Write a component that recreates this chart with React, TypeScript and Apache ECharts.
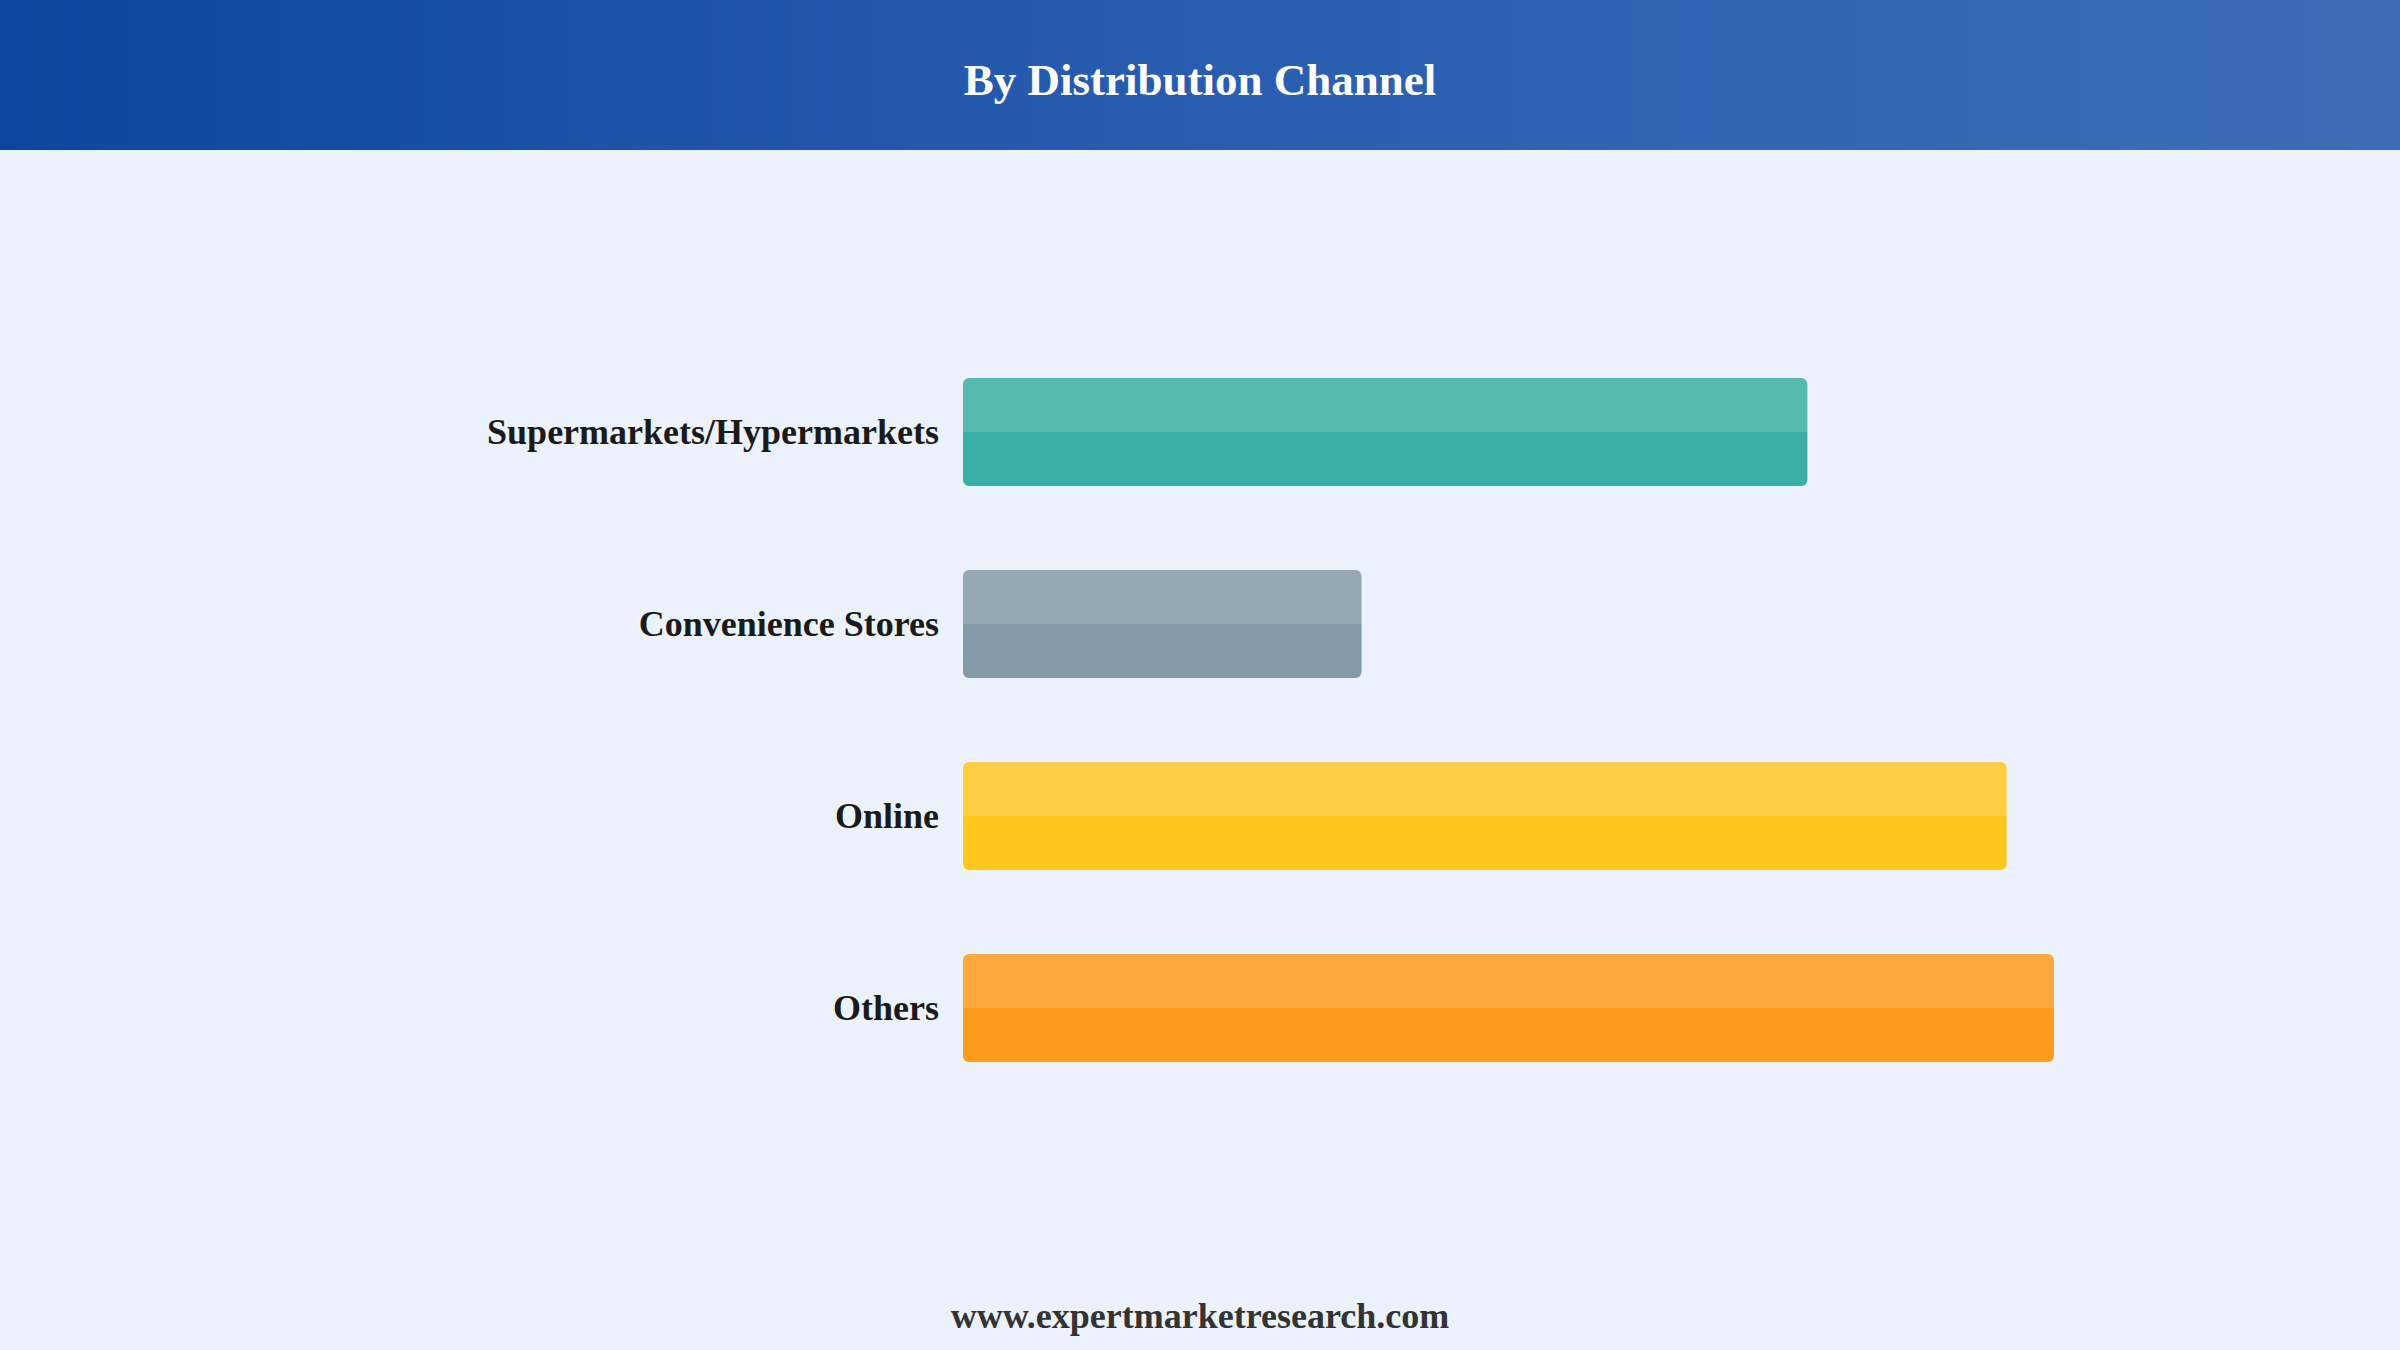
import { useEffect, useRef } from "react";
import * as echarts from "echarts";

const categories = ["Supermarkets/Hypermarkets", "Convenience Stores", "Online", "Others"];
const shares = [25, 11.8, 30.9, 32.3];
const lightColors = ["#57BAB1", "#96A8B1", "#FFCD44", "#FFA83F"];
const darkColors = ["#38AFA5", "#849BA7", "#FEC61F", "#FE9A1C"];

const SERIF = "'Liberation Serif', 'Times New Roman', serif";

export default function App() {
  const ref = useRef<HTMLDivElement>(null);

  useEffect(() => {
    document.body.style.margin = "0";
    if (!ref.current) return;
    const chart = echarts.init(ref.current, null, { renderer: "svg" });

    const twoTone = (i: number) =>
      new echarts.graphic.LinearGradient(0, 0, 0, 1, [
        { offset: 0, color: lightColors[i] },
        { offset: 0.5, color: lightColors[i] },
        { offset: 0.5, color: darkColors[i] },
        { offset: 1, color: darkColors[i] },
      ]);

    chart.setOption({
      animation: false,
      backgroundColor: "#EBF2FB",
      graphic: [
        {
          type: "rect",
          left: 0,
          top: 0,
          z: -10,
          shape: { width: 2400, height: 150 },
          style: {
            fill: new echarts.graphic.LinearGradient(0, 0, 1, 0, [
              { offset: 0, color: "#0D46A0" },
              { offset: 0.5, color: "#2A5DB0" },
              { offset: 1, color: "#3D6DB5" },
            ]),
          },
        },
      ],
      title: [
        {
          text: "By Distribution Channel",
          left: "center",
          top: 52,
          textStyle: { color: "#ffffff", fontSize: 45, fontWeight: "bold", fontFamily: SERIF },
        },
        {
          text: "www.expertmarketresearch.com",
          left: "center",
          top: 1293,
          textStyle: { color: "#333333", fontSize: 36, fontWeight: "bold", fontFamily: SERIF },
        },
      ],
      grid: { left: 963, right: 86, top: 336, bottom: 246 },
      xAxis: {
        type: "value",
        min: 0,
        max: 40,
        show: false,
        splitLine: { show: false },
      },
      yAxis: {
        type: "category",
        inverse: true,
        data: categories,
        axisLine: { show: false },
        axisTick: { show: false },
        axisLabel: {
          margin: 24,
          fontSize: 36,
          fontWeight: "bold",
          fontFamily: SERIF,
          color: "#1a1a1a",
        },
      },
      series: [
        {
          type: "bar",
          barWidth: 108,
          data: shares.map((v, i) => ({
            value: v,
            itemStyle: { color: twoTone(i), borderRadius: 6 },
          })),
        },
      ],
      tooltip: { show: false },
    });

    const onResize = () => chart.resize();
    window.addEventListener("resize", onResize);
    return () => {
      window.removeEventListener("resize", onResize);
      chart.dispose();
    };
  }, []);

  return <div ref={ref} style={{ width: 2400, height: 1350 }} />;
}
